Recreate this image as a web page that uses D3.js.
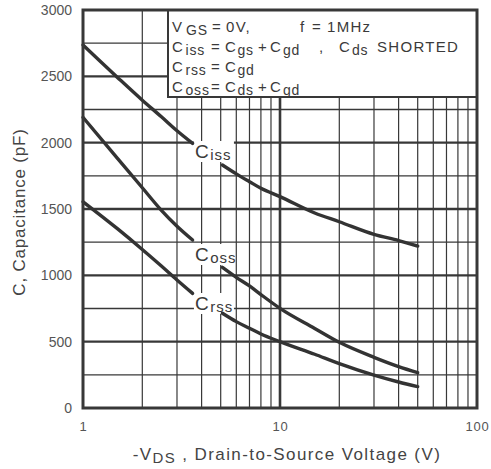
<!DOCTYPE html>
<html><head><meta charset="utf-8">
<script src="https://cdn.jsdelivr.net/npm/d3@7"></script>
<style>
html,body{margin:0;padding:0;background:#fff;}
svg{display:block;font-family:"Liberation Sans",Arial,Helvetica,sans-serif;}
</style></head>
<body><svg id="c" width="491" height="469"></svg>
<script>
// ---- data ----
const voltages = [1, 1.5, 2, 2.5, 3, 3.6, NaN, 5.1, 6, 7, 8, 10, 15, 20, 30, 40, 50];
const ciss = [2736, 2490, 2320, 2195, 2090, 1995, NaN, 1832, 1765, 1706, 1656, 1593, 1470, 1404, 1309, 1262, 1221];
const coss = [2191, 1880, 1660, 1490, 1370, 1266, NaN, 1060, 985, 920, 855, 751, 600, 495, 382, 312, 266];
const crss = [1555, 1350, 1195, 1070, 965, 864, NaN, 714, 651, 601, 558, 500, 405, 335, 248, 196, 161];
const seriesNames = ["iss", "oss", "rss"];
const yTickValues = [0, 500, 1000, 1500, 2000, 2500, 3000];
const xTickValues = [1, 10, 100];
const legendLines = [
  [["V",0,172],["GS",1,186],["=",0,212],["0V,",0,226],["f",0,300],["=",0,312],["1MHz",0,327]],
  [["C",0,172],["iss",1,185.5],["=",0,211],["C",0,225],["gs",1,237.5],["+",0,258],["C",0,270],["gd",1,283],[",",0,319],["C",0,339],["ds",1,352],["SHORTED",0,377]],
  [["C",0,172],["rss",1,185.5],["=",0,211],["C",0,225],["gd",1,237.5]],
  [["C",0,172],["oss",1,185.5],["=",0,211],["C",0,225],["ds",1,237.5],["+",0,258],["C",0,270],["gd",1,283]]
];

// ---- layout ----
const L = 83, R = 477, T = 10, B = 408;
const svg = d3.select("#c");
const x = d3.scaleLog().domain([1, 100]).range([L, R]);
const y = d3.scaleLinear().domain([0, 3000]).range([B, T]);
const ink = "#383838";

// grid
const g = svg.append("g");
const yGrid = d3.range(250, 3000, 250);
g.selectAll("line.h").data(yGrid).join("line")
  .attr("x1", L).attr("x2", R).attr("y1", d => y(d)).attr("y2", d => y(d))
  .attr("stroke", ink).attr("stroke-width", d => d % 500 === 0 ? 2.4 : 1.3);
const xGrid = d3.range(2, 10).concat(d3.range(10, 100, 10));
g.selectAll("line.v").data(xGrid).join("line")
  .attr("y1", T).attr("y2", B).attr("x1", d => x(d)).attr("x2", d => x(d))
  .attr("stroke", ink).attr("stroke-width", d => d === 10 ? 2.6 : 1.2);

// curve labels background
const labelPos = [
  {name:"iss", v:3.7},
  {name:"oss", v:3.7},
  {name:"rss", v:3.7}
];
const labelBase = {iss: 158, oss: 261, rss: 310};
labelPos.forEach(p => {
  const bx = x(p.v) - 1, by = labelBase[p.name];
  svg.append("rect").attr("x", bx).attr("y", by - 17).attr("width", 40).attr("height", 21).attr("fill", "#fff");
});

// legend box
svg.append("rect").attr("x", 168).attr("y", T).attr("width", R - 168).attr("height", 87)
  .attr("fill", "#fff").attr("stroke", ink).attr("stroke-width", 2);
legendLines.forEach((line, i) => {
  const base = 32 + i * 20;
  line.forEach(([t, sub, px]) => {
    svg.append("text").attr("x", px).attr("y", base + (sub ? 3 : 0))
      .attr("font-size", sub ? 14 : 15).attr("letter-spacing", sub ? 0.8 : 1.3)
      .attr("fill", "#3a3a3a").text(t);
  });
});

// curves
const line = d3.line().defined(d => !isNaN(d[1])).x(d => x(d[0])).y(d => y(d[1])).curve(d3.curveMonotoneX);
[ciss, coss, crss].forEach(s => {
  svg.append("path").datum(voltages.map((v, i) => isNaN(v) ? [4, NaN] : [v, s[i]]))
    .attr("d", line).attr("fill", "none").attr("stroke", "#333").attr("stroke-width", 3.4)
    .attr("stroke-linecap", "round");
});

// curve labels
labelPos.forEach(p => {
  const bx = x(p.v), by = labelBase[p.name];
  const t = svg.append("text").attr("x", bx).attr("y", by).attr("fill", "#3a3a3a");
  t.append("tspan").attr("font-size", 19).text("C");
  t.append("tspan").attr("font-size", 15).attr("dy", 2).attr("dx", 1.5).attr("letter-spacing", 1).text(p.name);
});

// frame
svg.append("rect").attr("x", L).attr("y", T).attr("width", R - L).attr("height", B - T)
  .attr("fill", "none").attr("stroke", ink).attr("stroke-width", 3);

// axes labels
const yAxis = d3.axisLeft(y).tickValues(yTickValues).tickSize(0).tickPadding(11).tickFormat(d3.format("d"));
const ya = svg.append("g").attr("transform", `translate(${L},0)`).call(yAxis);
ya.select(".domain").remove();
ya.selectAll("text").attr("font-size", 14).attr("fill", "#555").attr("font-family", "Liberation Sans, Arial, sans-serif");

const xAxis = d3.axisBottom(x).tickValues(xTickValues).tickSize(0).tickPadding(14).tickFormat(d3.format("d"));
const xa = svg.append("g").attr("transform", `translate(0,${B})`).call(xAxis);
xa.select(".domain").remove();
xa.selectAll("text").attr("font-size", 13).attr("fill", "#555").attr("letter-spacing", 0.8).attr("font-family", "Liberation Sans, Arial, sans-serif");

// axis titles
const xt = svg.append("text").attr("x", 287).attr("y", 460).attr("text-anchor", "middle")
  .attr("font-size", 17).attr("fill", "#444").attr("letter-spacing", 1.4);
xt.append("tspan").text("-V");
xt.append("tspan").attr("font-size", 15).attr("dy", 3).text("DS");
xt.append("tspan").attr("dy", -3).text(" , Drain-to-Source Voltage (V)");

svg.append("text").attr("transform", "translate(25,212) rotate(-90)").attr("text-anchor", "middle")
  .attr("font-size", 17).attr("fill", "#444").attr("letter-spacing", 0.8)
  .text("C, Capacitance (pF)");
</script></body></html>
